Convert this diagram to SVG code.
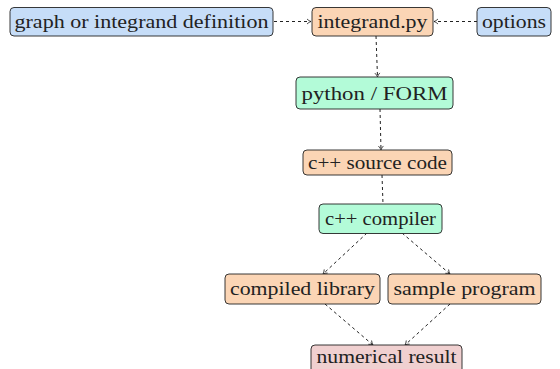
<svg xmlns="http://www.w3.org/2000/svg" width="560" height="369" viewBox="0 0 560 369">
<defs>
<style>
.n rect{stroke:#222;stroke-width:0.9;}
.blue rect{fill:#c6ddf8;}
.orange rect{fill:#fbd5b5;}
.green rect{fill:#b3fbd8;}
.pink rect{fill:#f0d0d0;}
text{font-family:"Liberation Serif","Times New Roman",Times,"DejaVu Serif",serif;font-size:19px;fill:#222;text-anchor:middle;}
.c line{stroke:#222;stroke-width:1;stroke-dasharray:3 3;fill:none;}
</style>
<marker id="ah" markerWidth="8" markerHeight="8" refX="6" refY="4" orient="auto" markerUnits="userSpaceOnUse">
<path d="M2,1.5 Q4,3.5 6,4 Q4,4.5 2,6.5" fill="none" stroke="#222" stroke-width="0.8"/>
</marker>
</defs>
<rect width="560" height="369" fill="#fff"/>
<g class="c" id="connectors">
<line x1="274" y1="21.5" x2="311" y2="21.5" marker-end="url(#ah)"/>
<line x1="477" y1="21.5" x2="434" y2="21.5" marker-end="url(#ah)"/>
<line x1="376" y1="36" x2="377.5" y2="77" marker-end="url(#ah)"/>
<line x1="380" y1="109" x2="381" y2="150" marker-end="url(#ah)"/>
<line x1="382" y1="175" x2="383" y2="204"/>
<line x1="367" y1="233" x2="323" y2="274" marker-end="url(#ah)"/>
<line x1="402" y1="233" x2="450" y2="274" marker-end="url(#ah)"/>
<line x1="325" y1="304" x2="373" y2="345" marker-end="url(#ah)"/>
<line x1="450" y1="304" x2="405" y2="345" marker-end="url(#ah)"/>
</g>
<g id="graph" class="n blue"><rect x="10" y="7.5" width="263" height="28.5" rx="4"/><text x="141.5" y="28" font-family="Liberation Serif" textLength="254" lengthAdjust="spacingAndGlyphs">graph or integrand definition</text></g>
<g id="integrand" class="n orange"><rect x="312" y="7.5" width="121" height="28.5" rx="4"/><text x="372.5" y="28" font-family="Liberation Serif" textLength="110" lengthAdjust="spacingAndGlyphs">integrand.py</text></g>
<g id="options" class="n blue"><rect x="477" y="7.5" width="74" height="28.5" rx="4"/><text x="514" y="28" font-family="Liberation Serif" textLength="64" lengthAdjust="spacingAndGlyphs">options</text></g>
<g id="python" class="n green"><rect x="296" y="77" width="157" height="32" rx="4"/><text x="374.5" y="99.5" font-family="Liberation Serif" textLength="146" lengthAdjust="spacingAndGlyphs">python / FORM</text></g>
<g id="source" class="n orange"><rect x="303" y="150" width="149" height="25" rx="4"/><text x="377.5" y="168.5" font-family="Liberation Serif" textLength="139" lengthAdjust="spacingAndGlyphs">c++ source code</text></g>
<g id="compiler" class="n green"><rect x="319" y="204" width="123" height="29.5" rx="4"/><text x="380.5" y="225" font-family="Liberation Serif" textLength="111" lengthAdjust="spacingAndGlyphs">c++ compiler</text></g>
<g id="library" class="n orange"><rect x="225" y="274" width="155" height="30" rx="4"/><text x="302.5" y="295" font-family="Liberation Serif" textLength="145" lengthAdjust="spacingAndGlyphs">compiled library</text></g>
<g id="sample" class="n orange"><rect x="388" y="274" width="153" height="30" rx="4"/><text x="464.5" y="295" font-family="Liberation Serif" textLength="142" lengthAdjust="spacingAndGlyphs">sample program</text></g>
<g id="result" class="n pink"><rect x="311" y="345" width="151" height="28" rx="4"/><text x="386.5" y="363" font-family="Liberation Serif" textLength="140" lengthAdjust="spacingAndGlyphs">numerical result</text></g>
</svg>
